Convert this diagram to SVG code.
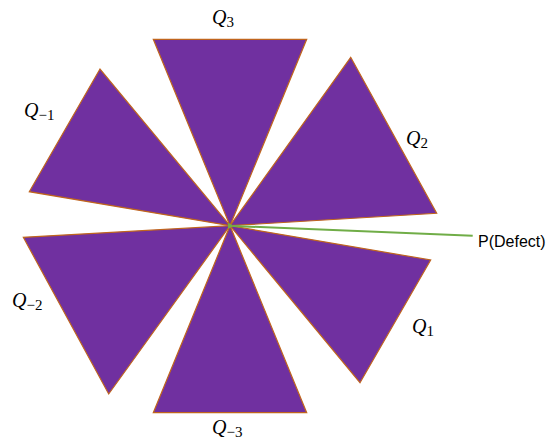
<svg xmlns="http://www.w3.org/2000/svg" width="547" height="440" viewBox="0 0 547 440">
<style>
.tri{fill:#7030A0;stroke:#C0651E;stroke-width:1.2;stroke-linejoin:miter}
.q{font-family:"Liberation Serif",serif;font-style:italic;font-size:20px;fill:#000}
.s{font-style:normal;font-size:15px}
.lbl{font-family:"Liberation Sans",Arial,sans-serif;font-size:16px;fill:#000}
</style>
<defs>
<marker id="ah" markerWidth="6" markerHeight="6" refX="1" refY="3" orient="auto" markerUnits="userSpaceOnUse">
<path d="M6,0 L0,3 L6,6 Z" fill="#70AD47"/>
</marker>
</defs>
<rect width="547" height="440" fill="#fff"/>
<g id="Q3"><polygon class="tri" points="153.3,39.3 306.7,39.3 230,225.7"/><text class="q" x="212" y="24">Q<tspan class="s" dy="3">3</tspan></text></g>
<g id="Q2"><polygon class="tri" points="350.7,57.3 436.7,213.3 230,225.7"/><text class="q" x="406" y="145">Q<tspan class="s" dy="3">2</tspan></text></g>
<g id="Q1"><polygon class="tri" points="430.7,260 360,382.7 230,225.7"/><text class="q" x="412" y="333">Q<tspan class="s" dy="3">1</tspan></text></g>
<g id="Qm3"><polygon class="tri" points="153.3,412.7 306.7,412.7 230,225.7"/><text class="q" x="212" y="434">Q<tspan class="s" dy="3">−3</tspan></text></g>
<g id="Qm2"><polygon class="tri" points="23.3,237.3 108.7,394 230,225.7"/><text class="q" x="12" y="307">Q<tspan class="s" dy="3">−2</tspan></text></g>
<g id="Qm1"><polygon class="tri" points="100,69 29.3,191.7 230,225.7"/><text class="q" x="24" y="117">Q<tspan class="s" dy="3">−1</tspan></text></g>
<g id="connectors">
<line x1="472.7" y1="235.7" x2="233" y2="226" stroke="#70AD47" stroke-width="2" marker-end="url(#ah)"/>
</g>
<g id="PDefect"><text class="lbl" x="478" y="247">P(Defect)</text></g>
</svg>
